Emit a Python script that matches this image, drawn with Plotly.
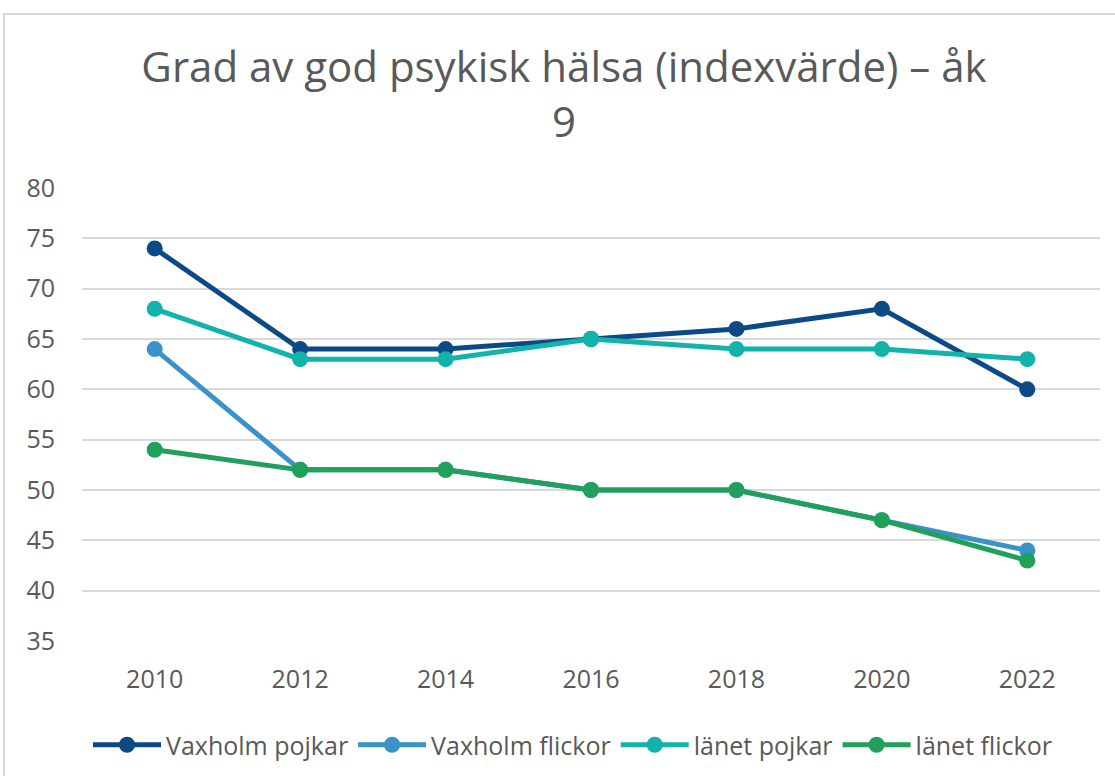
import plotly.graph_objects as go

years = ["2010", "2012", "2014", "2016", "2018", "2020", "2022"]
vaxholm_pojkar = [74, 64, 64, 65, 66, 68, 60]
vaxholm_flickor = [64, 52, 52, 50, 50, 47, 44]
lanet_pojkar = [68, 63, 63, 65, 64, 64, 63]
lanet_flickor = [54, 52, 52, 50, 50, 47, 43]

series = [
    ("Vaxholm pojkar", vaxholm_pojkar, "#0C4A86"),
    ("Vaxholm flickor", vaxholm_flickor, "#3A92C9"),
    ("länet pojkar", lanet_pojkar, "#11B3AB"),
    ("länet flickor", lanet_flickor, "#21A05B"),
]

FONT = "Open Sans"
TXT = "#595959"

fig = go.Figure()
for name, vals, col in series:
    fig.add_trace(go.Scatter(
        x=years, y=vals, name=name, mode="lines+markers",
        line=dict(color=col, width=5),
        marker=dict(color=col, size=16),
    ))

W, H = 1115, 776
L, R, T, B = 82, 15, 188, 135
pw, ph = W - L - R, H - T - B

fig.update_layout(
    width=W, height=H,
    margin=dict(l=L, r=R, t=T, b=B, autoexpand=False),
    paper_bgcolor="white", plot_bgcolor="white",
    font=dict(family=FONT, color=TXT, size=25),
    title=dict(
        text="Grad av god psykisk hälsa (indexvärde) – åk<br>9",
        x=564 / W, xanchor="center",
        y=1 - 82 / H, yanchor="middle",
        font=dict(family=FONT, size=42, color=TXT),
    ),
    xaxis=dict(
        type="category", range=[-0.5, len(years) - 0.5],
        showgrid=False, showline=False, ticks="",
        tickfont=dict(size=25, color=TXT), ticklabelstandoff=21,
        automargin=False,
    ),
    yaxis=dict(
        range=[35, 80], dtick=5, showgrid=True, gridcolor="#D9D9D9",
        gridwidth=2, zeroline=False, showline=False, ticks="",
        tickfont=dict(size=25, color=TXT), ticklabelstandoff=26,
        automargin=False,
    ),
    legend=dict(
        orientation="h", x=(572.5 - L) / pw, xanchor="center",
        y=-(745 - T - ph) / ph, yanchor="middle",
        font=dict(size=25, color=TXT), itemwidth=68,
        traceorder="normal",
    ),
    showlegend=True,
)

fig.add_shape(
    type="rect", xref="paper", yref="paper",
    x0=(4 - L) / pw, x1=1.2, y0=-0.6, y1=(H - B - 14) / ph,
    line=dict(color="#D9D9D9", width=2), fillcolor="rgba(0,0,0,0)",
    layer="below",
)

fig.write_html(
    "out.html",
    config={"displayModeBar": False},
    post_script="document.body.style.margin='0';document.body.style.padding='0';",
)
